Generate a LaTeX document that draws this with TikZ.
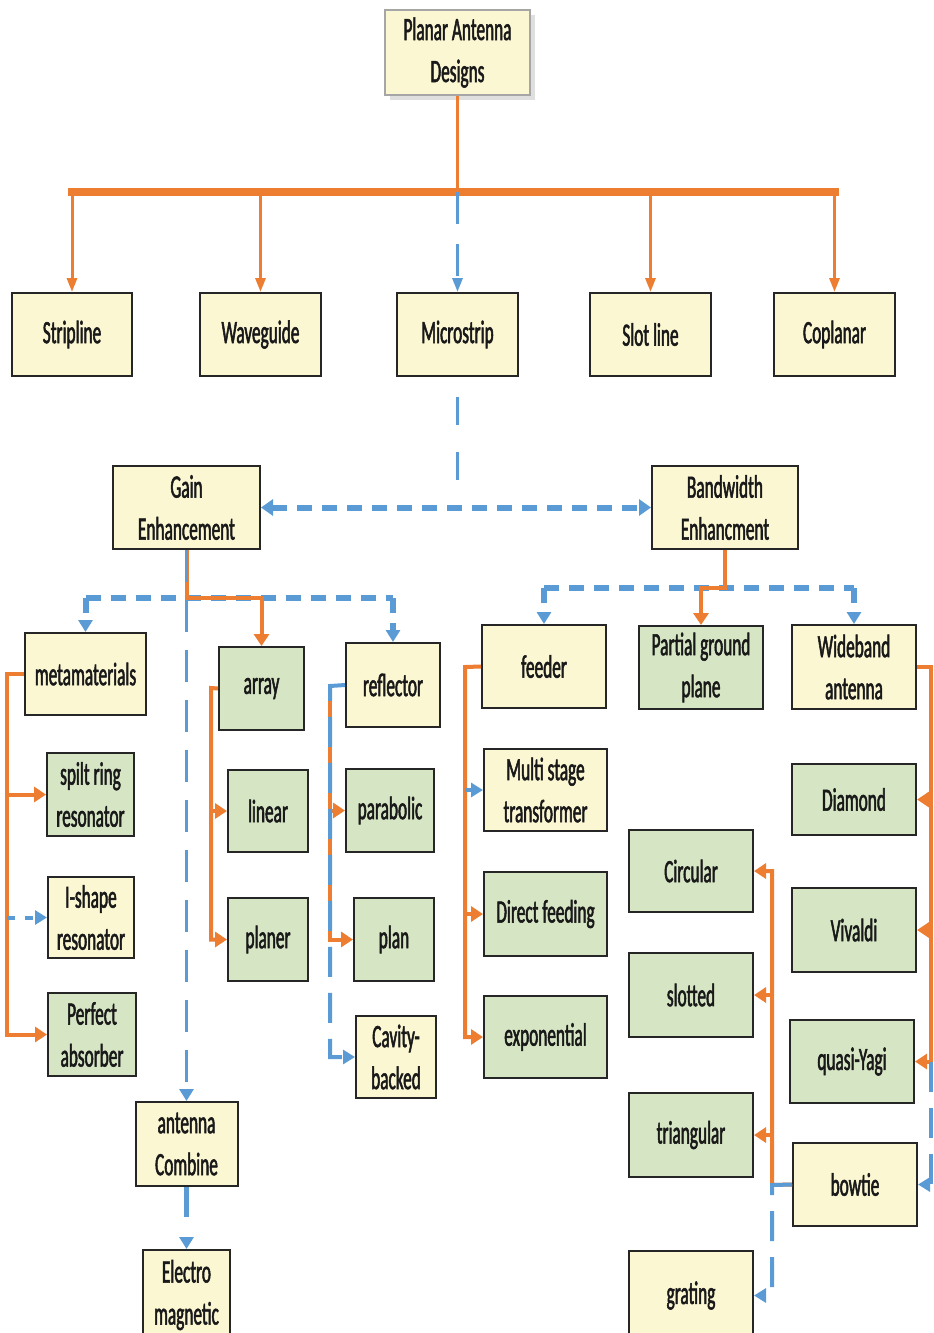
\documentclass[tikz,border=0pt]{standalone}
\usepackage{fontspec}
\setmainfont{Carlito}[FakeStretch=0.53, FakeBold=1.6]
\usetikzlibrary{arrows.meta,shadows}

\definecolor{boxyellow}{HTML}{FBF7D3}
\definecolor{boxgreen}{HTML}{D6E6C4}
\definecolor{linkorange}{HTML}{ED7D31}
\definecolor{linkblue}{HTML}{5B9BD5}

\tikzset{
  box/.style={rectangle, draw=black!85, line width=1pt, minimum width=62pt, minimum height=41.5pt,
    inner sep=1pt, align=center, text=black!90, font=\fontsize{16.3pt}{21pt}\selectfont},
  ybox/.style={box, fill=boxyellow},
  gbox/.style={box, fill=boxgreen},
  trunk/.style={linkorange, line width=1.5pt, -{Triangle[length=7pt,width=5pt]}},
  obranch/.style={linkorange, line width=2pt},
  oarrow/.style={obranch, -{Triangle[length=6pt,width=7.5pt]}},
  bdash/.style={linkblue, line width=3pt, dash pattern=on 7.5pt off 5pt},
  blong/.style={linkblue, line width=2pt, dash pattern=on 15pt off 8pt},
  barrow/.style={-{Triangle[length=6pt,width=7pt]}},
}

\begin{document}
\begin{tikzpicture}[x=0.5pt, y=-0.5pt]
    \useasboundingbox (0,0) rectangle (933,1333);

    \node (planar) at (457.5,52.5) [ybox, minimum width=72.5pt, minimum height=42.5pt, draw=black!35, drop shadow={opacity=0.25}] {Planar Antenna\\Designs};

    \node (strip) at (72,334.5) [ybox, minimum width=60pt] {Stripline};
    \node (wave) at (260.5,334.5) [ybox, minimum width=60.5pt] {Waveguide};
    \node (micro) at (457.5,334.5) [ybox, minimum width=60.5pt] {Microstrip};
    \node (slot) at (650.5,334.5) [ybox, minimum width=60.5pt] {Slot line};
    \node (copl) at (834.5,334.5) [ybox, minimum width=60.5pt] {Coplanar};

    \node (gain) at (186.5,507.5) [ybox, minimum width=73.5pt] {Gain\\Enhancement};
    \node (band) at (725,507.5) [ybox, minimum width=73pt] {Bandwidth\\Enhancment};

    \node (meta) at (85.5,674) [ybox, minimum width=60.5pt, minimum height=41pt] {metamaterials};
    \node (srr) at (90.5,794.5) [gbox, minimum width=43.5pt] {spilt ring\\resonator};
    \node (ishape) at (91,917.5) [ybox, minimum width=43pt, minimum height=40.5pt] {I-shape\\resonator};
    \node (perfect) at (92,1034.5) [gbox, minimum width=44pt] {Perfect\\absorber};

    \node (array) at (261.5,688.5) [gbox, minimum width=42.5pt] {array};
    \node (linear) at (268,811) [gbox, minimum width=40pt, minimum height=41pt] {linear};
    \node (planer) at (268,939.5) [gbox, minimum width=40pt] {planer};

    \node (refl) at (393,685) [ybox, minimum width=47pt, minimum height=42pt] {reflector};
    \node (parab) at (390,810.5) [gbox, minimum width=44pt] {parabolic};
    \node (plan) at (394,939.5) [gbox, minimum width=40pt] {plan};
    \node (cavity) at (396,1057) [ybox, minimum width=40pt, minimum height=41pt] {Cavity-\\backed};

    \node (combine) at (186.5,1144) [ybox, minimum width=51pt, minimum height=42pt] {antenna\\Combine};
    \node (electro) at (186.5,1295) [ybox, minimum width=43.5pt, minimum height=45pt] {Electro\\magnetic};

    \node (feeder) at (544,666.5) [ybox] {feeder};
    \node (partial) at (701,667.5) [gbox] {Partial ground\\plane};
    \node (wide) at (854,667) [ybox, minimum height=42pt] {Wideband\\antenna};

    \node (multi) at (545.5,790) [ybox, minimum width=61.5pt, minimum height=41pt] {Multi stage\\transformer};
    \node (direct) at (545.5,914) [gbox, minimum width=61.5pt, minimum height=42pt] {Direct feeding};
    \node (expo) at (545.5,1037) [gbox, minimum width=61.5pt, minimum height=41pt] {exponential};

    \node (circ) at (691,871) [gbox, minimum height=41pt] {Circular};
    \node (slotted) at (691,995) [gbox, minimum height=42pt] {slotted};
    \node (tri) at (691,1135) [gbox, minimum height=42pt] {triangular};
    \node (grating) at (691,1295.5) [ybox, minimum height=45pt] {grating};

    \node (diamond) at (854,799.5) [gbox, minimum height=35.5pt] {Diamond};
    \node (vivaldi) at (854,930) [gbox, minimum height=42pt] {Vivaldi};
    \node (yagi) at (852,1061.5) [gbox] {quasi-Yagi};
    \node (bowtie) at (855,1184.5) [ybox] {bowtie};

    \coordinate (bar) at (457.5,192);
    \coordinate (gsplit) at (186.5,598);
    \coordinate (bsplit) at (725,588);
    \coordinate (mline) at (7,674);
    \coordinate (aline) at (211,688);
    \coordinate (rline) at (330,686);
    \coordinate (fline) at (465,667);
    \coordinate (wline) at (931,667);
    \coordinate (tline) at (772,1185);

    % top level
    \draw[linkorange, line width=1.5pt] (planar.south) -- (bar);
    \draw[linkorange, line width=4pt, line cap=rect] (strip.north |- bar) -- (copl.north |- bar);
    \draw[trunk] (strip.north |- bar) -- (strip.north);
    \draw[trunk] (wave.north |- bar) -- (wave.north);
    \draw[trunk] (slot.north |- bar) -- (slot.north);
    \draw[trunk] (copl.north |- bar) -- (copl.north);
    \draw[linkblue, line width=1.5pt, dash pattern=on 16pt off 10pt, -{Triangle[length=7pt,width=5pt]}] (bar) -- (micro.north);
    \draw[linkblue, line width=1.5pt, dash pattern=on 14pt off 13.5pt, dash phase=17.5pt] (micro.south) -- (micro.south |- gain.east);
    \draw[bdash, {Triangle[length=6pt,width=8pt]}-{Triangle[length=6pt,width=8pt]}] (gain.east) -- (band.west);

    % gain side
    \draw[bdash] (meta.north |- gsplit) -- (refl.north |- gsplit);
    \draw[bdash, barrow] (meta.north |- gsplit) -- (meta.north);
    \draw[bdash, barrow] (refl.north |- gsplit) -- (refl.north);
    \draw[oarrow] (gain.south) |- (array.north |- gsplit) -- (array.north);
    \draw[blong, line width=1.5pt, dash pattern=on 16pt off 9pt, barrow] (gain.south) -- (combine.north);
    \draw[linkblue, line width=2.5pt, dash pattern=on 15pt off 11pt, barrow] (combine.south) -- (electro.north);

    \draw[oarrow] (meta.west) -- (mline) |- (perfect.west);
    \draw[oarrow] (mline |- srr.west) -- (srr.west);
    \draw[linkblue, line width=2pt, dash pattern=on 4pt off 5pt, barrow] (mline |- ishape.west) -- (ishape.west);

    \draw[oarrow] (array.west) -- (aline) |- (planer.west);
    \draw[oarrow] (aline |- linear.west) -- (linear.west);

    \draw[oarrow] (rline) |- (plan.west);
    \draw[oarrow] (rline |- parab.west) -- (parab.west);
    \draw[blong, barrow] (refl.west) -- (rline) |- (cavity.west);

    % bandwidth side
    \draw[bdash] (feeder.north |- bsplit) -- (wide.north |- bsplit);
    \draw[bdash, barrow] (feeder.north |- bsplit) -- (feeder.north);
    \draw[bdash, barrow] (wide.north |- bsplit) -- (wide.north);
    \draw[oarrow] (band.south) |- (partial.north |- bsplit) -- (partial.north);

    \draw[oarrow] (feeder.west) -- (fline) |- (expo.west);
    \draw[oarrow] (fline |- direct.west) -- (direct.west);
    \draw[linkblue, line width=2pt, barrow] (fline |- multi.west) -- (multi.west);

    \draw[oarrow] (wide.east) -- (wline) |- (yagi.east);
    \draw[oarrow] (wline |- diamond.east) -- (diamond.east);
    \draw[oarrow] (wline |- vivaldi.east) -- (vivaldi.east);
    \draw[blong, barrow] (wline |- yagi.east) |- (bowtie.east);

    \draw[oarrow] (bowtie.west) -- (tline) |- (circ.east);
    \draw[oarrow] (tline |- slotted.east) -- (slotted.east);
    \draw[oarrow] (tline |- tri.east) -- (tri.east);
    \draw[blong, barrow] (bowtie.west) -- (tline) |- (grating.east);
\end{tikzpicture}
\end{document}
